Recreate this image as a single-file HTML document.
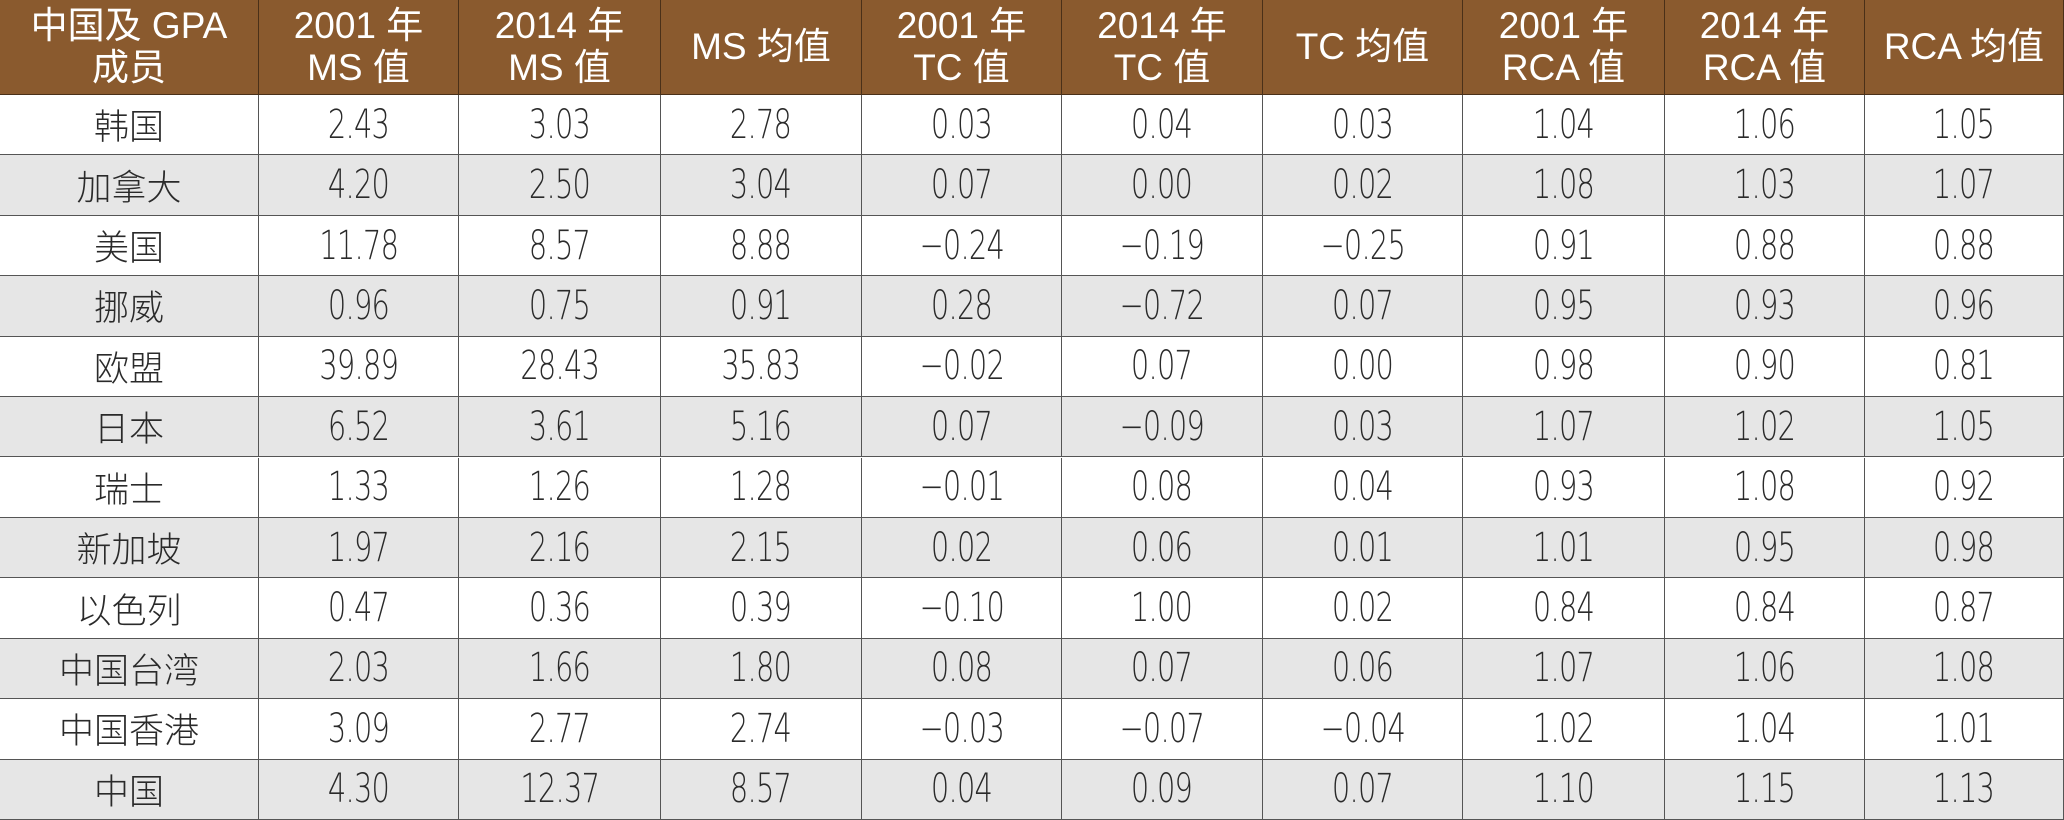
<!DOCTYPE html>
<html><head><meta charset="utf-8">
<style>
html,body{margin:0;padding:0;background:#fff;}
#wrap{position:relative;width:2064px;height:820px;overflow:hidden;font-family:"Liberation Sans","Noto Sans CJK SC",sans-serif;}
.c{position:absolute;box-sizing:border-box;display:flex;align-items:center;justify-content:center;text-align:center;border-right:1.5px solid #555;border-bottom:1.5px solid #555;}
.h{background:#8a5a2e;color:#fff;font-size:37px;line-height:42px;border-color:#4a3018;}
.b{color:#2a2a2a;font-size:40px;font-family:"DejaVu Sans","Liberation Sans","Noto Sans CJK SC",sans-serif;font-weight:200;}
.b span{display:inline-block;transform:scaleX(0.72);letter-spacing:-1px;}
.g{background:#e6e6e6;}
.cjk{font-family:"Noto Sans CJK SC",sans-serif;font-weight:300;font-size:35px;}
.cjk span{transform:none;letter-spacing:0;}
</style></head><body>
<div id="wrap"></div>
<script>
const headers=["中国及 GPA<br>成员","2001 年<br>MS 值","2014 年<br>MS 值","MS 均值","2001 年<br>TC 值","2014 年<br>TC 值","TC 均值","2001 年<br>RCA 值","2014 年<br>RCA 值","RCA 均值"];
const members=["韩国","加拿大","美国","挪威","欧盟","日本","瑞士","新加坡","以色列","中国台湾","中国香港","中国"];
const ms2001=["2.43","4.20","11.78","0.96","39.89","6.52","1.33","1.97","0.47","2.03","3.09","4.30"];
const ms2014=["3.03","2.50","8.57","0.75","28.43","3.61","1.26","2.16","0.36","1.66","2.77","12.37"];
const msAvg=["2.78","3.04","8.88","0.91","35.83","5.16","1.28","2.15","0.39","1.80","2.74","8.57"];
const tc2001=["0.03","0.07","−0.24","0.28","−0.02","0.07","−0.01","0.02","−0.10","0.08","−0.03","0.04"];
const tc2014=["0.04","0.00","−0.19","−0.72","0.07","−0.09","0.08","0.06","1.00","0.07","−0.07","0.09"];
const tcAvg=["0.03","0.02","−0.25","0.07","0.00","0.03","0.04","0.01","0.02","0.06","−0.04","0.07"];
const rca2001=["1.04","1.08","0.91","0.95","0.98","1.07","0.93","1.01","0.84","1.07","1.02","1.10"];
const rca2014=["1.06","1.03","0.88","0.93","0.90","1.02","1.08","0.95","0.84","1.06","1.04","1.15"];
const rcaAvg=["1.05","1.07","0.88","0.96","0.81","1.05","0.92","0.98","0.87","1.08","1.01","1.13"];
const cols=[members,ms2001,ms2014,msAvg,tc2001,tc2014,tcAvg,rca2001,rca2014,rcaAvg];
const xs=[0,259,459,661,862,1062,1263,1463,1665,1865,2064];
const H=95, R=(820-95)/12;
const wrap=document.getElementById('wrap');
for(let j=0;j<10;j++){
  const d=document.createElement('div');
  d.className='c h';
  
  
  d.style.left=xs[j]+'px';d.style.top='0px';d.style.width=(xs[j+1]-xs[j])+'px';d.style.height=H+'px';
  d.innerHTML=headers[j];
  wrap.appendChild(d);
}
for(let i=0;i<12;i++){
  for(let j=0;j<10;j++){
    const d=document.createElement('div');
    d.className='c b'+(i%2?' g':'')+(j==0?' cjk':'');
    
    
    d.style.left=xs[j]+'px';d.style.top=(H+i*R)+'px';d.style.width=(xs[j+1]-xs[j])+'px';d.style.height=R+'px';
    const s=document.createElement('span');
    s.textContent=cols[j][i];
    d.appendChild(s);
    wrap.appendChild(d);
  }
}
</script>
</body></html>
